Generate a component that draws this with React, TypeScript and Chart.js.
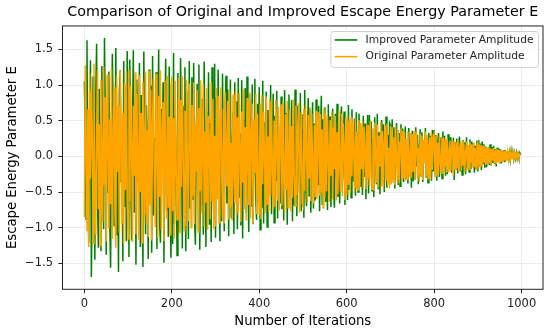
import React, { useEffect, useRef } from "react";
import { Chart, registerables } from "chart.js";

Chart.register(...registerables);

const TITLE = "Comparison of Original and Improved Escape Energy Parameter E";
const X_LABEL = "Number of Iterations";
const Y_LABEL = "Escape Energy Parameter E";
const SERIES_NAMES = ["Improved Parameter Amplitude", "Original Parameter Amplitude"];
const SERIES_COLORS = ["#008000", "#FFA500"];

// one value every ITERATION_STEP iterations, starting at iteration 0
const ITERATION_STEP = 2;

const improvedAmplitude = [
  1.05, 0.32, -0.88, 1.63, -0.41, -1.21, 0.42, 1.35, -1.69, -0.57, 1.12, 0.37, -1.45, 0.84, 1.58, -0.62, -1.28, 0.95, 0.11, -1.33, 1.27, -0.15, -1.02, 1.66, 0.53,
  -1.38, 0.74, -0.51, 1.19, -0.93, -1.56, 0.28, 1.44, 0.61, -0.97, -0.24, 1.52, -1.11, 0.46, -1.62, 0.89, 1.21, -0.36, 0.07, -1.47, 1.34, -0.71, 0.98, -1.19, 1.48,
  0.63, -1.41, 1.36, -0.22, -1.18, 0.39, 1.49, -0.79, 0.55, -1.52, 1.08, -0.35, 0.17, 1.31, -1.27, 0.86, -0.68, -1.55, 1.47, -0.02, -1.09, 0.72, 0.12, -1.44, 1.22,
  -0.48, 0.99, -1.35, 1.41, -0.83, 0.26, -0.61, 1.18, -1.3, 0.45, 1.5, -0.92, -1.21, 0.67, -0.14, 1.04, -1.49, 0.33, 1.37, -0.76, 0.58, -1.13, 1.26, -0.29, -1.42,
  0.31, -1.23, 1.45, -0.95, 0.58, -0.08, -1.39, 1.17, -0.26, -1.07, 1.38, 0.49, -1.29, 0.71, -0.44, 1.25, -1.33, 0.92, 0.18, -1.16, 1.34, -0.73, 0.04, 1.11, -0.61,
  1.31, -0.88, -1.24, 0.36, 1.02, -0.53, 1.29, -1.31, 0.24, -0.69, 0.81, -1.1, 1.33, 0.15, -1.27, 0.62, -0.3, 1.18, -0.96, 0.47, -1.2, 1.25, -0.07, -0.85, 1.3,
  -1.14, 0.83, -0.38, 1.22, 0.09, -1.19, 0.54, -0.91, 1.16, -0.27, -1.05, 0.68, 1.13, -0.66, 0.94, -1.12, 0.21, 1.08, -0.87, -0.18, 0.63, -1.09, 1.04, -0.45, 0.77,
  -1.02, 1.1, -0.58, 0.32, -0.97, 1.07, -1.15, 0.51, -0.12, 0.96, -0.79, 1.12, -0.33, -1.06, 0.88, 0.26, -0.71, 1.01, -0.95, 0.43, 1.09, -0.6, -0.89, 0.74, -0.2,
  0.97, -1.03, 0.36, -0.72, 1.06, -0.94, 0.48, -0.17, 0.91, -0.99, 0.65, 0.13, -0.52, 1.0, -0.81, 0.24, 0.88, -0.93, 0.57, -0.34, 0.92, -0.87, 0.41, -0.05, -0.66,
  0.84, -0.74, 0.19, -0.9, 0.93, -0.42, 0.61, -0.96, 0.3, 0.87, -0.58, -0.11, 0.79, -0.91, 0.45, -0.69, 0.94, -0.26, -0.84, 0.71, 0.08, -0.5, 0.89, -0.77, 0.37,
  0.59, -0.86, 0.93, -0.31, -0.7, 0.14, 0.82, -0.55, 0.67, -0.79, 0.19, 0.76, -0.73, 0.46, -0.62, 0.8, -0.04, -0.4, 0.71, -0.77, 0.28, 0.85, -0.68, 0.52, -0.25,
  0.69, -0.64, 0.35, -0.75, 0.73, -0.18, 0.56, -0.71, 0.09, 0.67, -0.49, -0.72, 0.6, -0.3, 0.74, -0.57, 0.22, -0.66, 0.5, 0.7, -0.41, -0.1, 0.63, -0.68, 0.44,
  0.38, -0.61, 0.72, -0.47, 0.15, -0.58, 0.66, -0.06, -0.36, 0.53, -0.55, 0.62, -0.21, -0.5, 0.6, 0.24, -0.43, 0.33, -0.54, 0.57, -0.29, 0.46, -0.6, 0.12, 0.58,
  -0.52, 0.58, -0.12, 0.49, -0.48, 0.27, -0.57, 0.55, 0.05, -0.39, 0.6, -0.46, 0.34, -0.53, 0.19, 0.51, -0.32, 0.45, -0.5, 0.09, 0.56, -0.44, 0.3, -0.19, 0.47,
  0.44, -0.37, 0.52, -0.26, 0.41, -0.45, 0.18, 0.47, -0.02, -0.4, 0.33, -0.42, 0.45, -0.2, 0.39, -0.36, 0.11, 0.42, -0.31, 0.1, -0.38, 0.4, -0.28, 0.22, -0.44,
  0.36, -0.35, 0.22, -0.33, 0.41, -0.14, 0.3, -0.39, 0.07, 0.38, -0.27, 0.34, -0.36, 0.19, -0.08, 0.4, -0.3, 0.25, -0.37, 0.33, -0.16, 0.29, -0.34, 0.37, -0.21,
  0.37, -0.24, 0.3, -0.34, 0.16, 0.33, -0.29, 0.04, 0.27, -0.31, 0.35, -0.12, 0.29, -0.27, 0.22, -0.25, 0.31, -0.18, 0.12, 0.27, -0.23, 0.08, 0.26, -0.33, 0.2,
  -0.19, 0.25, -0.24, 0.14, 0.28, -0.21, 0.06, -0.26, 0.23, -0.11, 0.2, -0.25, 0.27, -0.16, 0.09, -0.22, 0.24, -0.18, 0.21, -0.05, 0.19, -0.23, 0.15, -0.17, 0.22,
  -0.21, 0.23, -0.14, 0.18, -0.19, 0.21, -0.1, 0.17, -0.16, 0.14, -0.15, 0.03, 0.12, -0.12, 0.17, -0.13, 0.13, -0.09, 0.15, -0.11, 0.1, -0.14, 0.12, -0.06, 0.11,
  -0.1, 0.1, -0.1, 0.08, -0.07, 0.09, -0.08, 0.07, -0.05, 0.08, -0.06, 0.05, -0.05, 0.07, -0.04, 0.06, -0.04, 0.05, -0.03, 0.05, -0.03, 0.04, -0.02, 0.05, 0.02,
];

const originalAmplitude = [
  -0.85, 1.28, 0.14, -1.05, 0.66, -1.27, 1.17, -0.31, 0.94, 0.42, -1.22, 1.3, -0.58, -1.1, 0.27, 1.21, -0.74, 0.45, -1.25, 1.08, -0.12, -0.92, 1.26, -0.4, 0.83,
  -1.19, 1.15, 0.33, -1.01, 0.52, -0.67, 1.24, -1.16, 0.08, 0.97, -0.81, -1.28, 1.12, -0.22, 0.71, -1.07, 1.2, 0.38, -0.94, 0.61, -1.23, 1.03, -0.47, 1.19, -0.64,
  -1.16, 1.22, -0.63, 0.99, 0.17, -1.2, 0.71, -0.27, 1.18, -1.09, 0.88, -0.05, -1.17, 1.14, -0.5, 0.61, -1.21, 1.05, 0.24, -0.82, 1.19, -0.96, 0.37, -1.13, 1.2,
  -0.69, 0.93, -1.18, 0.48, 1.1, -0.38, -0.99, 1.16, 0.02, -1.14, 0.85, -0.57, 1.21, -1.03, 0.3, 0.76, -1.19, 1.07, -0.19, -0.87, 1.13, -0.72, 0.56, -1.1, 0.98,
  1.12, -0.77, 0.54, -1.15, 1.06, -0.11, -0.89, 0.25, 1.1, -1.08, 0.79, -0.43, 1.13, 0.06, -1.04, 0.64, -0.97, 1.07, -0.33, -0.91, 1.02, 0.4, -1.0, 0.72, -0.56,
  1.04, -0.95, 0.46, -0.21, 0.93, -1.06, 0.68, -0.49, 1.07, -0.79, 0.13, 1.01, -0.98, 0.35, -0.65, 0.96, -1.03, 0.57, 0.2, -0.88, 1.05, -0.62, 0.81, -1.02, 0.29,
  -0.98, 0.96, -0.6, 0.85, -0.93, 0.3, 0.97, -0.16, -0.86, 0.67, -0.94, 0.9, 0.07, -0.42, 0.78, -0.88, 0.94, -0.71, 0.19, -0.9, 0.87, -0.26, -0.65, 0.92, -0.83,
  0.55, -0.79, 0.89, 0.1, -0.92, 0.63, -0.37, 0.95, -0.74, 0.41, -0.9, 0.82, -0.08, -0.68, 0.9, -0.87, 0.33, 0.74, -0.94, 0.52, -0.23, 0.88, -0.81, 0.6, -0.47,
  -0.82, 0.74, -0.88, 0.86, -0.39, 0.63, 0.04, -0.8, 0.84, -0.67, 0.28, -0.78, 0.81, -0.55, 0.77, -0.15, -0.74, 0.5, -0.71, 0.79, 0.18, -0.62, 0.7, -0.76, 0.35,
  0.73, -0.69, 0.76, -0.31, -0.79, 0.59, -0.47, 0.78, -0.72, 0.12, 0.66, -0.77, 0.43, -0.58, 0.8, -0.24, -0.7, 0.71, -0.54, 0.37, 0.75, -0.79, 0.06, 0.62, -0.66,
  -0.7, 0.66, -0.48, 0.72, 0.09, -0.65, 0.58, -0.3, 0.69, -0.63, 0.6, -0.13, -0.66, 0.44, -0.57, 0.64, -0.6, 0.22, 0.62, -0.55, 0.59, -0.51, 0.38, -0.72, 0.68,
  -0.58, 0.6, -0.49, 0.56, 0.03, -0.64, 0.51, -0.27, 0.63, -0.6, 0.41, -0.18, 0.57, -0.62, 0.34, -0.53, 0.65, -0.11, -0.5, 0.6, -0.56, 0.46, 0.15, -0.61, 0.55,
  -0.54, 0.57, -0.4, 0.5, -0.52, 0.55, -0.28, 0.48, 0.07, -0.5, 0.53, -0.45, 0.35, -0.47, 0.51, -0.43, 0.47, -0.18, 0.49, -0.44, 0.42, 0.1, -0.46, 0.45, -0.32,
  0.44, -0.41, 0.5, -0.23, -0.46, 0.39, -0.48, 0.47, 0.04, -0.37, 0.45, -0.44, 0.29, -0.14, 0.48, -0.42, 0.36, -0.47, 0.2, 0.43, -0.33, 0.46, -0.4, 0.12, -0.45,
  0.43, -0.39, 0.41, -0.36, 0.27, -0.4, 0.42, -0.07, -0.33, 0.37, -0.38, 0.2, 0.39, -0.35, 0.36, -0.31, 0.34, -0.34, 0.25, -0.32, 0.35, -0.02, -0.29, 0.33, -0.3,
  0.31, -0.22, 0.36, -0.33, 0.18, 0.34, -0.3, 0.12, -0.35, 0.32, -0.26, 0.29, -0.33, 0.23, -0.1, 0.35, -0.28, 0.3, -0.31, 0.15, 0.27, -0.32, 0.33, -0.19, 0.28,
  0.32, -0.28, 0.29, -0.27, 0.19, -0.26, 0.3, -0.08, -0.24, 0.26, -0.25, 0.27, -0.14, 0.24, -0.23, 0.25, -0.21, 0.06, 0.22, -0.2, 0.13, 0.23, -0.27, 0.21, -0.18,
  0.2, -0.17, 0.23, -0.21, 0.11, 0.19, -0.2, 0.22, -0.13, 0.18, -0.22, 0.05, 0.21, -0.19, 0.16, -0.18, 0.2, -0.09, 0.17, -0.16, 0.19, -0.15, 0.12, -0.18, 0.17,
  0.19, -0.16, 0.17, -0.15, 0.16, -0.14, 0.15, -0.09, 0.13, -0.12, 0.12, -0.11, 0.14, -0.1, 0.11, -0.13, 0.1, -0.06, 0.12, -0.1, 0.09, -0.11, 0.1, -0.08, 0.09,
  -0.09, 0.09, -0.08, 0.07, -0.07, 0.08, -0.06, 0.07, -0.06, 0.06, -0.05, 0.06, -0.04, 0.05, -0.04, 0.05, -0.03, 0.05, -0.02, 0.04, -0.02, 0.04, -0.01, 0.03, 0.02,
];

const X_TICKS = [0, 200, 400, 600, 800, 1000];
const Y_TICKS = [-1.5, -1.0, -0.5, 0.0, 0.5, 1.0, 1.5];
const X_RANGE = [-50, 1049];
const Y_RANGE = [-1.864, 1.83];

const FONT = '"DejaVu Sans", "Noto Sans", sans-serif';

const toPoints = (values: number[]) => values.map((y, i) => ({ x: i * ITERATION_STEP, y }));

const framePlugin = {
  id: "frame",
  afterDatasetsDraw(chart: any) {
    const { ctx, chartArea } = chart;
    ctx.save();
    ctx.strokeStyle = "#222";
    ctx.lineWidth = 1;
    ctx.strokeRect(chartArea.left, chartArea.top, chartArea.right - chartArea.left, chartArea.bottom - chartArea.top);
    ctx.restore();
  },
};

const legendPlugin = {
  id: "mplLegend",
  afterDraw(chart: any) {
    const { ctx, chartArea } = chart;
    const fontSize = 10.7;
    ctx.save();
    ctx.font = `${fontSize}px ${FONT}`;
    const textW = Math.max(...SERIES_NAMES.map((s) => ctx.measureText(s).width));
    const right = chartArea.right - 4.5;
    const top = chartArea.top + 5.5;
    const rowH = 16.7;
    const lineLen = 22.5;
    const padX = 4;
    const gap = 8.3;
    const w = padX + lineLen + gap + textW + 5;
    const h = 36;
    const left = right - w;
    const r = 3;
    ctx.beginPath();
    ctx.moveTo(left + r, top);
    ctx.lineTo(right - r, top);
    ctx.arcTo(right, top, right, top + r, r);
    ctx.lineTo(right, top + h - r);
    ctx.arcTo(right, top + h, right - r, top + h, r);
    ctx.lineTo(left + r, top + h);
    ctx.arcTo(left, top + h, left, top + h - r, r);
    ctx.lineTo(left, top + r);
    ctx.arcTo(left, top, left + r, top, r);
    ctx.closePath();
    ctx.fillStyle = "rgba(255,255,255,0.8)";
    ctx.fill();
    ctx.strokeStyle = "#d0d0d0";
    ctx.lineWidth = 1;
    ctx.stroke();
    SERIES_NAMES.forEach((name, i) => {
      const y = top + 8.5 + i * rowH;
      ctx.beginPath();
      ctx.moveTo(left + padX, y);
      ctx.lineTo(left + padX + lineLen, y);
      ctx.strokeStyle = SERIES_COLORS[i];
      ctx.lineWidth = 1.6;
      ctx.stroke();
      ctx.fillStyle = "#222";
      ctx.textBaseline = "middle";
      ctx.textAlign = "left";
      ctx.fillText(name, left + padX + lineLen + gap, y);
    });
    ctx.restore();
  },
};

export default function App() {
  const ref = useRef<HTMLCanvasElement | null>(null);

  useEffect(() => {
    if (!ref.current) return;
    const chart = new Chart(ref.current, {
      type: "line",
      data: {
        datasets: [
          {
            label: SERIES_NAMES[1],
            data: toPoints(originalAmplitude),
            borderColor: SERIES_COLORS[1],
            backgroundColor: SERIES_COLORS[1],
            borderWidth: 1.5,
            pointRadius: 0,
            tension: 0,
            fill: false,
          },
          {
            label: SERIES_NAMES[0],
            data: toPoints(improvedAmplitude),
            borderColor: SERIES_COLORS[0],
            backgroundColor: SERIES_COLORS[0],
            borderWidth: 1.5,
            pointRadius: 0,
            tension: 0,
            fill: false,
          },
        ],
      },
      options: {
        animation: false,
        responsive: false,
        maintainAspectRatio: false,
        events: [],
        layout: { padding: { left: 0, right: 7, top: 0, bottom: 0 } },
        plugins: {
          legend: { display: false },
          tooltip: { enabled: false },
          title: {
            display: true,
            text: TITLE,
            fullSize: false,
            color: "#000",
            font: { family: FONT, size: 14.3, weight: "normal" },
            padding: { top: 4, bottom: 4.8 },
          },
        },
        scales: {
          x: {
            type: "linear",
            min: X_RANGE[0],
            max: X_RANGE[1],
            afterBuildTicks: (scale: any) => {
              scale.ticks = X_TICKS.map((v) => ({ value: v }));
            },
            afterFit: (scale: any) => {
              scale.height = 44.7;
            },
            ticks: {
              color: "#222",
              font: { family: FONT, size: 11.5 },
              padding: 4,
              maxRotation: 0,
              autoSkip: false,
              callback: (v: any) => String(v),
            },
            grid: {
              color: "#e6e6e6",
              lineWidth: 0.8,
              tickColor: "#222",
              tickLength: 4,
              tickWidth: 1,
            },
            border: { display: false },
            title: {
              display: true,
              text: X_LABEL,
              color: "#000",
              font: { family: FONT, size: 13.2 },
              padding: { top: 0, bottom: 5 },
            },
          },
          y: {
            type: "linear",
            min: Y_RANGE[0],
            max: Y_RANGE[1],
            afterBuildTicks: (scale: any) => {
              scale.ticks = Y_TICKS.map((v) => ({ value: v }));
            },
            afterFit: (scale: any) => {
              scale.width = 62.5;
            },
            ticks: {
              color: "#222",
              font: { family: FONT, size: 11.5 },
              padding: 5.5,
              autoSkip: false,
              callback: (v: any) => Number(v).toFixed(1).replace("-", "\u2212"),
            },
            grid: {
              color: "#e6e6e6",
              lineWidth: 0.8,
              tickColor: "#222",
              tickLength: 4,
              tickWidth: 1,
            },
            border: { display: false },
            title: {
              display: true,
              text: Y_LABEL,
              color: "#000",
              font: { family: FONT, size: 13.2 },
              padding: { top: 4.6, bottom: 0 },
            },
          },
        },
      } as any,
      plugins: [framePlugin, legendPlugin],
    });
    return () => chart.destroy();
  }, []);

  return (
    <div style={{ position: "fixed", left: 0, top: 0, width: 550, height: 334, background: "#fff" }}>
      <canvas ref={ref} width={550} height={334} style={{ width: 550, height: 334, display: "block" }} />
    </div>
  );
}
